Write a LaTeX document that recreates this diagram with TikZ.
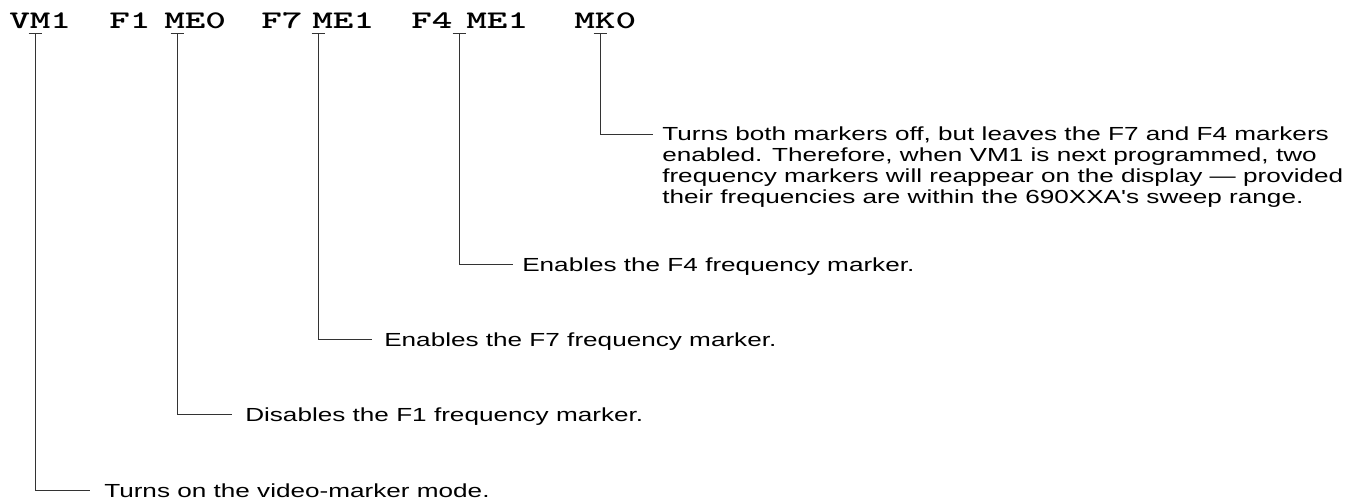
\documentclass[tikz,border=0pt]{standalone}
\usepackage{fontspec}
\usepackage{graphicx}
\newfontfamily\bodyfont{Liberation Sans}[Ligatures=TeXOff,FakeStretch=1.38]
\newcommand\cmdtxt[1]{\scalebox{1.55}[1]{#1}}
\begin{document}
\begin{tikzpicture}[x=0.75pt,y=-0.75pt,
  cmd/.style={font=\fontsize{19}{20}\ttfamily\bfseries, inner sep=0pt, anchor=base west},
  desc/.style={font=\bodyfont\fontsize{14.2}{15.75}\selectfont, inner sep=0pt, anchor=base west, align=left},
  lead/.style={line width=0.75pt, black!80}]
\useasboundingbox (0,0) rectangle (1351,500);
% command tokens
\node[cmd] (vm)  at (9,28)   {\cmdtxt{VM1}};
\node[cmd] (f1)  at (109,28) {\cmdtxt{F1}};
\node[cmd] (me0) at (164,28) {\cmdtxt{ME0}};
\node[cmd] (f7)  at (261,28) {\cmdtxt{F7}};
\node[cmd] (mea) at (312,28) {\cmdtxt{ME1}};
\node[cmd] (f4)  at (411,28) {\cmdtxt{F4}};
\node[cmd] (meb) at (466,28) {\cmdtxt{ME1}};
\node[cmd] (mk)  at (574,28) {\cmdtxt{MK0}};
% descriptions
\node[desc] (dvm)  at (104,497) {Turns on the video-marker mode.};
\node[desc] (dme0) at (245,421) {Disables the F1 frequency marker.};
\node[desc] (dmea) at (384,346) {Enables the F7 frequency marker.};
\node[desc] (dmeb) at (522,271) {Enables the F4 frequency marker.};
\node[desc] (dmk)  at (662,203) {Turns both markers off, but leaves the F7 and F4 markers\\
enabled.  Therefore, when VM1 is next programmed, two\\
frequency markers will reappear on the display — provided\\
their frequencies are within the 690XXA's sweep range.};
% tick points and leader ends
\coordinate (tvm)  at (35,33);
\coordinate (tme0) at (177,33);
\coordinate (tmea) at (318,33);
\coordinate (tmeb) at (459,33);
\coordinate (tmk)  at (600,33);
\coordinate (evm)  at (90,490);
\coordinate (eme0) at (232,414);
\coordinate (emea) at (372,339);
\coordinate (emeb) at (513,264);
\coordinate (emk)  at (653,134);
\foreach \t in {vm, me0, mea, meb, mk}{
  \draw[lead] ([xshift=-6.5*0.75pt]t\t.center) -- ([xshift=6.5*0.75pt]t\t.center);
  \draw[lead] (t\t) |- (e\t);
}
\end{tikzpicture}
\end{document}
